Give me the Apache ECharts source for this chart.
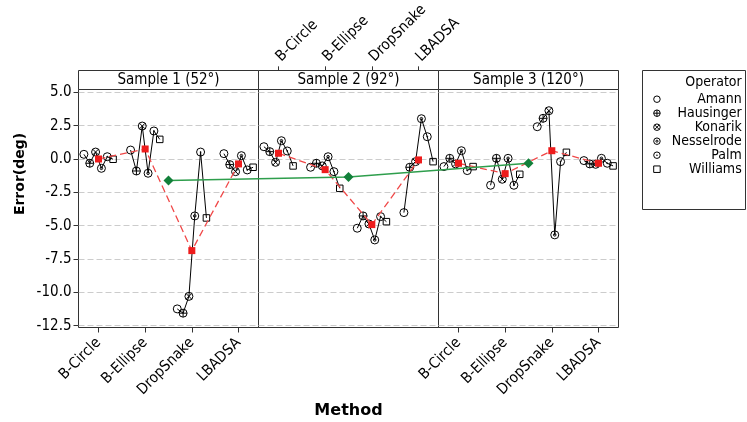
<!DOCTYPE html>
<html><head><meta charset="utf-8">
<script src="https://cdn.jsdelivr.net/npm/echarts@6/dist/echarts.min.js"></script>
<style>html,body{margin:0;padding:0;background:#fff}#c{width:747px;height:422px}</style>
</head><body><div id="c"></div>
<script>
// ---- data ----
const methods = ['B-Circle', 'B-Ellipse', 'DropSnake', 'LBADSA'];
const operators = ['Amann', 'Hausinger', 'Konarik', 'Nesselrode', 'Palm', 'Williams'];
const samples = ['Sample 1 (52°)', 'Sample 2 (92°)', 'Sample 3 (120°)'];
const yTicks = [5, 2.5, 0, -2.5, -5, -7.5, -10, -12.5];

// error per operator (operator order) for each sample / method
const s1BCircle   = [0.35, -0.32, 0.52, -0.70, 0.17, -0.02];
const s1BEllipse  = [0.67, -0.90, 2.47, -1.07, 2.10, 1.47];
const s1DropSnake = [-11.24, -11.56, -10.30, -4.27, 0.52, -4.42];
const s1LBADSA    = [0.40, -0.42, -0.95, 0.25, -0.82, -0.62];

const s2BCircle   = [0.92, 0.55, -0.25, 1.37, 0.60, -0.52];
const s2BEllipse  = [-0.62, -0.32, -0.52, 0.17, -0.95, -2.20];
const s2DropSnake = [-5.19, -4.27, -4.87, -6.07, -4.32, -4.70];
const s2LBADSA    = [-4.02, -0.62, -0.20, 3.02, 1.67, -0.20];

const s3BCircle   = [-0.57, 0.05, -0.37, 0.62, -0.87, -0.57];
const s3BEllipse  = [-1.97, 0.05, -1.52, 0.05, -1.97, -1.15];
const s3DropSnake = [2.42, 3.05, 3.62, -5.69, -0.20, 0.50];
const s3LBADSA    = [-0.12, -0.37, -0.40, 0.05, -0.32, -0.52];

// method means (red squares) per sample
const s1Means = [0.00, 0.75, -6.87, -0.37];
const s2Means = [0.43, -0.80, -4.92, -0.07];
const s3Means = [-0.32, -1.10, 0.62, -0.32];
// sample means (green diamonds)
const sampleMeans = [-1.62, -1.35, -0.32];

// ---- layout / style ----
const FONT = "'DejaVu Sans Condensed', 'Liberation Sans', Arial, sans-serif";
const XMIN = 4 / 7, XMAX = 4 + 3 / 7, SPAN = XMAX - XMIN;
const YMIN = -12.635, YMAX = 5.21;
const DODGE = 0.125;
const PL = [78.5, 258.5, 438.5], PW = 180, PT = 89.5, PH = 238, ST = 70.5, SH = 19;

const ring = 'M0,-10A10,10,0,1,1,0,10A10,10,0,1,1,0,-10Z';
const SYM = [
  'circle',
  'path://' + ring + 'M-10,0L10,0M0,-10L0,10',
  'path://' + ring + 'M-7.07,-7.07L7.07,7.07M-7.07,7.07L7.07,-7.07',
  'path://' + ring + 'M0,-3.2A3.2,3.2,0,1,1,0,3.2A3.2,3.2,0,1,1,0,-3.2Z',
  'path://' + ring + 'M0,-1.2A1.2,1.2,0,1,1,0,1.2A1.2,1.2,0,1,1,0,-1.2Z',
  'path://M-10,-10L10,-10L10,10L-10,10Z'
];
const SYMSIZE = [8, 8, 8, 8, 8, 6.5];

const panelData = [
  [s1BCircle, s1BEllipse, s1DropSnake, s1LBADSA],
  [s2BCircle, s2BEllipse, s2DropSnake, s2LBADSA],
  [s3BCircle, s3BEllipse, s3DropSnake, s3LBADSA]
];
const panelMeans = [s1Means, s2Means, s3Means];

const tickLabel = (show, top) => ({
  axisTick: {show: show, customValues: [1, 2, 3, 4], length: 5, inside: false,
    lineStyle: {color: '#333', width: 1}},
  axisLabel: {show: show, customValues: [1, 2, 3, 4], rotate: top ? -45 : 45, margin: top ? 12 : 13,
    formatter: v => methods[Math.round(v) - 1], color: '#000', fontSize: 15, fontFamily: FONT}
});

const grids = [], xAxes = [], yAxes = [], series = [], graphics = [];
for (let p = 0; p < 3; p++) {
  grids.push({left: PL[p], top: PT, width: PW, height: PH, show: true,
    borderColor: '#333', borderWidth: 1, backgroundColor: 'rgba(0,0,0,0)'});
  xAxes.push(Object.assign({
    gridIndex: p, type: 'value', min: XMIN, max: XMAX, position: 'bottom',
    axisLine: {show: false, onZero: false}, splitLine: {show: false}
  }, tickLabel(p !== 1, false)));
  yAxes.push({
    gridIndex: p, type: 'value', min: YMIN, max: YMAX,
    axisLine: {show: false, onZero: false},
    axisTick: {show: p === 0, customValues: yTicks, length: 5, lineStyle: {color: '#333'}},
    axisLabel: {show: p === 0, customValues: yTicks, margin: 7,
      formatter: v => v.toFixed(1), color: '#000', fontSize: 15, fontFamily: FONT},
    splitLine: {show: true, lineStyle: {color: '#cccccc', width: 1, type: [6, 3]}}
  });
  const groups = panelData[p];
  groups.forEach((vals, m) => {
    series.push({type: 'line', xAxisIndex: p, yAxisIndex: p, silent: true,
      data: vals.map((v, i) => [m + 1 + (i - 2.5) * DODGE, v]),
      symbol: 'none', lineStyle: {color: '#000', width: 1}, z: 2});
  });
  operators.forEach((op, i) => {
    series.push({type: 'scatter', name: op, xAxisIndex: p, yAxisIndex: p,
      data: groups.map((vals, m) => [m + 1 + (i - 2.5) * DODGE, vals[i]]),
      symbol: SYM[i], symbolSize: SYMSIZE[i],
      itemStyle: {color: 'rgba(0,0,0,0)', borderColor: '#000', borderWidth: 1, opacity: 1}, z: 3});
  });
  series.push({type: 'line', xAxisIndex: p, yAxisIndex: p, silent: true,
    data: panelMeans[p].map((v, m) => [m + 1, v]),
    symbol: 'rect', symbolSize: 7, showSymbol: true,
    itemStyle: {color: '#ee1c1c'},
    lineStyle: {color: '#f04848', width: 1.3, type: [7, 4]}, z: 4});

  // strip
  graphics.push({type: 'rect', shape: {x: PL[p], y: ST, width: PW, height: SH},
    style: {fill: '#fff', stroke: '#333', lineWidth: 1}, z: 1});
  graphics.push({type: 'text', x: PL[p] + PW / 2, y: ST + SH / 2 + 0.5,
    style: {text: samples[p], fill: '#000', font: '15px ' + FONT,
      textAlign: 'center', textVerticalAlign: 'middle', align: 'center', verticalAlign: 'middle'}, z: 2});
}
// overlay grid for the across-sample line (index 3)
grids.push({left: PL[0], top: PT, width: PW * 3, height: PH, show: false});
xAxes.push({gridIndex: 3, type: 'value', min: XMIN, max: XMIN + 3 * SPAN, show: false});
yAxes.push({gridIndex: 3, type: 'value', min: YMIN, max: YMAX, show: false});
series.push({type: 'line', xAxisIndex: 3, yAxisIndex: 3, silent: true,
  data: sampleMeans.map((v, p) => [2.5 + p * SPAN, v]),
  symbol: 'diamond', symbolSize: 10, showSymbol: true,
  itemStyle: {color: '#12803a'},
  lineStyle: {color: '#2e9e4c', width: 1.5}, z: 5});
// strip host grid for the top method axis of sample 2 (index 4)
grids.push({left: PL[1], top: ST, width: PW, height: SH, show: false});
xAxes.push(Object.assign({gridIndex: 4, type: 'value', min: XMIN, max: XMAX, position: 'top',
  axisLine: {show: false, onZero: false}, splitLine: {show: false}}, tickLabel(true, true)));
yAxes.push({gridIndex: 4, type: 'value', min: 0, max: 1, show: false});

// titles and legend frame
graphics.push({type: 'text', x: 20, y: 174, rotation: Math.PI / 2,
  style: {text: 'Error(deg)', fill: '#000', font: 'bold 14px "DejaVu Sans", sans-serif',
    textAlign: 'center', textVerticalAlign: 'middle', align: 'center', verticalAlign: 'middle'}});
graphics.push({type: 'text', x: 348.5, y: 411,
  style: {text: 'Method', fill: '#000', font: 'bold 16px "DejaVu Sans", sans-serif',
    textAlign: 'center', textVerticalAlign: 'middle', align: 'center', verticalAlign: 'middle'}});
graphics.push({type: 'rect', shape: {x: 642.5, y: 70.5, width: 103, height: 139},
  style: {fill: 'rgba(0,0,0,0)', stroke: '#333', lineWidth: 1}});
graphics.push({type: 'text', x: 741.7, y: 82.5,
  style: {text: 'Operator', fill: '#000', font: '14px ' + FONT,
    textAlign: 'right', textVerticalAlign: 'middle', align: 'right', verticalAlign: 'middle'}});

const chart = echarts.init(document.getElementById('c'), null, {renderer: 'canvas'});
chart.setOption({
  animation: false,
  backgroundColor: '#fff',
  grid: grids, xAxis: xAxes, yAxis: yAxes, series: series,
  graphic: {elements: graphics},
  legend: {
    orient: 'vertical', left: 653.2, top: 92.2, padding: 0, itemGap: 0,
    itemWidth: 6.5, itemHeight: 6.5, selectedMode: false,
    data: operators.map((n, i) => ({name: n, icon: SYM[i]})),
    itemStyle: {color: 'rgba(0,0,0,0)', borderColor: '#000', borderWidth: 1},
    formatter: '{a|{name}}',
    textStyle: {color: '#000', fontFamily: FONT, fontSize: 14,
      rich: {a: {width: 76.5, align: 'right', fontSize: 14, lineHeight: 19, fontFamily: FONT, color: '#000'}}}
  }
});
</script></body></html>
